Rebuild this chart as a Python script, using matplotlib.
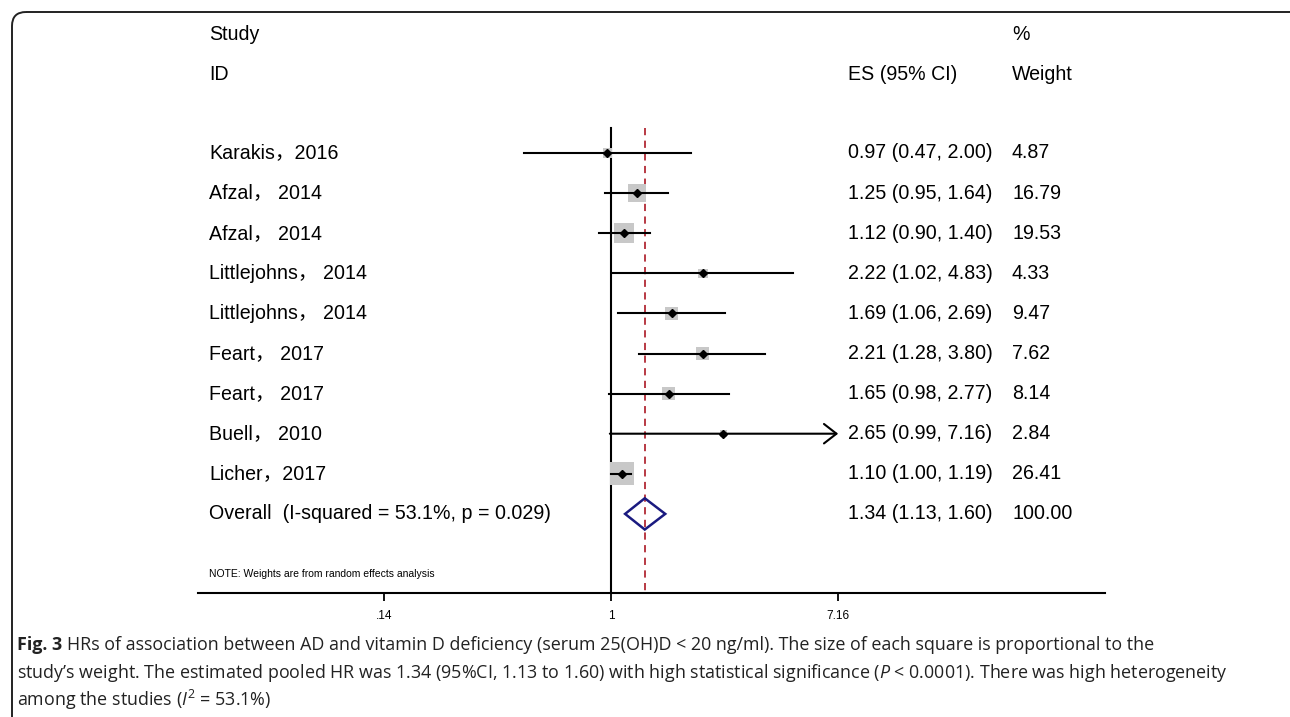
import matplotlib
matplotlib.use("Agg")
import matplotlib.pyplot as plt
import matplotlib.transforms as mtransforms
from matplotlib.patches import FancyBboxPatch, Polygon
import numpy as np

# ---------------- data ----------------
studies = ["Karakis，2016", "Afzal， 2014", "Afzal， 2014", "Littlejohns， 2014",
           "Littlejohns， 2014", "Feart， 2017", "Feart， 2017", "Buell， 2010",
           "Licher，2017"]
es = [0.97, 1.25, 1.12, 2.22, 1.69, 2.21, 1.65, 2.65, 1.10]
lo = [0.47, 0.95, 0.90, 1.02, 1.06, 1.28, 0.98, 0.99, 1.00]
hi = [2.00, 1.64, 1.40, 4.83, 2.69, 3.80, 2.77, 7.16, 1.19]
weights = [4.87, 16.79, 19.53, 4.33, 9.47, 7.62, 8.14, 2.84, 26.41]
overall_label = "Overall  (I-squared = 53.1%, p = 0.029)"
overall = (1.34, 1.13, 1.60)
overall_weight = "100.00"
xticks = [0.14, 1, 7.16]
xticklabels = [".14", "1", "7.16"]
axis_max = 7.16  # arrow clipping point

W, H = 1290, 717
fig = plt.figure(figsize=(W / 100, H / 100), dpi=100)

plt.rcParams['mathtext.fontset'] = 'custom'
plt.rcParams['mathtext.rm'] = 'Open Sans'
plt.rcParams['mathtext.it'] = 'Open Sans:italic'
plt.rcParams['mathtext.bf'] = 'Open Sans:bold'

# overlay axes for border and caption (pixel coords)
bg = fig.add_axes([0, 0, 1, 1])
bg.set_xlim(0, W)
bg.set_ylim(H, 0)
bg.axis("off")
border = FancyBboxPatch((12, 12), 1300, 720, boxstyle="round,pad=0,rounding_size=14",
                        fill=False, ec="#222222", lw=1.4, clip_on=True)
bg.add_patch(border)

# main forest axes
left_px, right_px = 198, 1105
top_px, bot_px = 20, 593
ax = fig.add_axes([left_px / W, 1 - bot_px / H, (right_px - left_px) / W, (bot_px - top_px) / H])
ax.set_xscale("log")
x_one_px = 611
ppl = 115.4  # pixels per ln unit
ax.set_xlim(np.exp((left_px - x_one_px) / ppl), np.exp((right_px - x_one_px) / ppl))
row0_px, row_step = 153, 40.1
ax.set_ylim((bot_px - row0_px) / row_step, (top_px - row0_px) / row_step)
for s in ["top", "right", "left"]:
    ax.spines[s].set_visible(False)
ax.spines["bottom"].set_linewidth(1.5)
ax.set_yticks([])
ax.set_xticks(xticks)
ax.set_xticklabels(xticklabels, fontsize=8.5, family="Liberation Sans")
ax.minorticks_off()
ax.tick_params(axis="x", length=6, width=1.3, pad=6)
ax.patch.set_alpha(0)

ybot = ax.get_ylim()[0]
vtop = (128 - row0_px) / row_step
ax.plot([1, 1], [vtop, ybot], color="black", lw=1.5, zorder=2)
ax.plot([overall[0], overall[0]], [vtop, ybot], color="#b22a35", lw=1.3,
        ls=(0, (4, 3)), zorder=2)

n = len(studies)
rows = np.arange(n)
# squares
ax.scatter(es, rows, marker="s", s=[10.4 * w for w in weights], color="#c8c8c8",
           zorder=3, linewidths=0)
for i in range(n):
    if hi[i] >= axis_max:
        ax.annotate("", xy=(axis_max, rows[i]), xytext=(lo[i], rows[i]),
                    arrowprops=dict(arrowstyle="->,head_length=0.45,head_width=0.35",
                                    lw=1.5, color="black", shrinkA=0, shrinkB=0,
                                    mutation_scale=20), zorder=4)
    else:
        ax.plot([lo[i], hi[i]], [rows[i], rows[i]], color="black", lw=1.5, zorder=4)
ax.plot(es, rows, ls="none", marker="D", ms=4.5, color="black", zorder=5)

# overall diamond
oy = n
h = 0.39
ax.add_patch(Polygon([(overall[1], oy), (overall[0], oy - h), (overall[2], oy),
                      (overall[0], oy + h)], closed=True, fill=False,
                     ec="#1a1a80", lw=1.8, zorder=5))

# text columns
tr = mtransforms.blended_transform_factory(fig.transFigure, ax.transData)
fam = ["Liberation Sans", "Noto Sans CJK SC"]
fs = 14.1
def ry(px):
    return (px - row0_px) / row_step
x_lab, x_es, x_w = 209 / W, 848 / W, 1012 / W
kw = dict(transform=tr, fontsize=fs, family=fam, va="center", clip_on=False)
ax.text(x_lab, ry(35), "Study", **kw)
ax.text(x_lab, ry(75), "ID", **kw)
ax.text(x_es, ry(75), "ES (95% CI)", **kw)
ax.text(x_w, ry(35), "%", **kw)
ax.text(x_w, ry(75), "Weight", **kw)
for i in range(n):
    ax.text(x_lab, rows[i], studies[i], **kw)
    ax.text(x_es, rows[i], f"{es[i]:.2f} ({lo[i]:.2f}, {hi[i]:.2f})", **kw)
    ax.text(x_w, rows[i], f"{weights[i]:.2f}", **kw)
ax.text(x_lab, oy, overall_label, **kw)
ax.text(x_es, oy, f"{overall[0]:.2f} ({overall[1]:.2f}, {overall[2]:.2f})", **kw)
ax.text(x_w, oy, overall_weight, **kw)
ax.text(x_lab, ry(574), "NOTE: Weights are from random effects analysis", transform=tr,
        fontsize=7.5, family=fam, va="center", clip_on=False)

# caption
cfam = ["Open Sans", "DejaVu Sans"]
cfs = 12.9
renderer = fig.canvas.get_renderer()
t0 = bg.text(17, 645, "Fig. 3", fontsize=cfs, family=cfam, weight="bold",
             va="center", ha="left", color="#222222")
bb = t0.get_window_extent(renderer=renderer)
x_after = bb.x1 + 5  # pixels
cap = [
    "HRs of association between AD and vitamin D deficiency (serum 25(OH)D < 20 ng/ml). The size of each square is proportional to the",
    r"study’s weight. The estimated pooled HR was 1.34 (95%CI, 1.13 to 1.60) with high statistical significance ($P$ < 0.0001). There was high heterogeneity",
    r"among the studies ($I^2$ = 53.1%)",
]
for k, line in enumerate(cap):
    x0 = x_after if k == 0 else 17
    bg.text(x0, 645 + 27.5 * k, line, fontsize=cfs, family=cfam,
            va="center", ha="left", color="#222222")

fig.savefig("out.png", dpi=100)
